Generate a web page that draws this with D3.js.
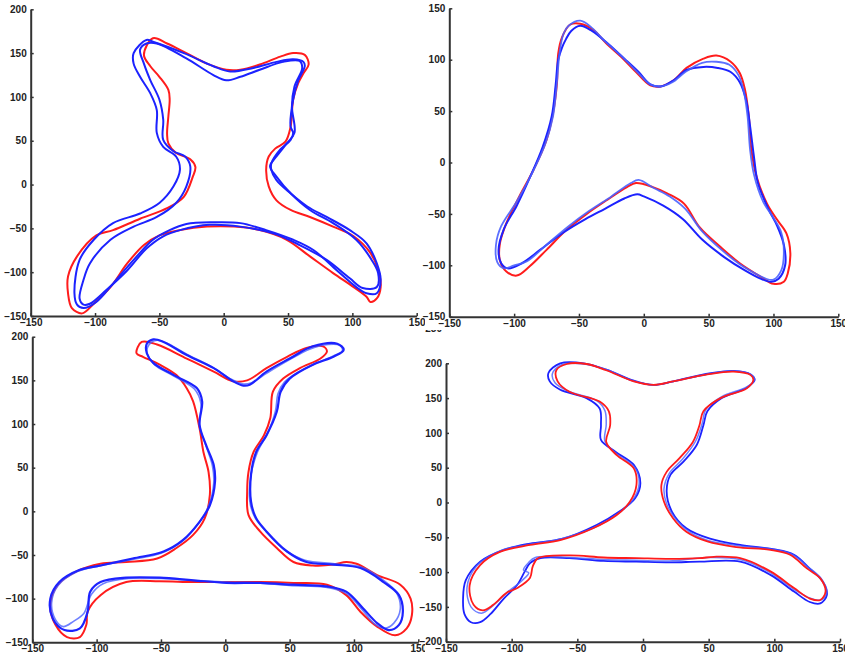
<!DOCTYPE html>
<html>
<head>
<meta charset="utf-8">
<script src="https://cdn.jsdelivr.net/npm/d3@7"></script>
<style>
  body { margin: 0; background: #fff; }
  svg { display: block; }
  .tick text { font-family: "Liberation Sans", Arial, sans-serif; font-weight: bold; font-size: 10px; fill: #222; }
</style>
</head>
<body>
<script>
const w = 845;
const h = 660;

// tick values
const xTicks = [-150, -100, -50, 0, 50, 100, 150];
const yTicksTL = [-150, -100, -50, 0, 50, 100, 150, 200];
const yTicksTR = [-150, -100, -50, 0, 50, 100, 150];
const yTicksBL = [-150, -100, -50, 0, 50, 100, 150, 200];
const yTicksBR = [-200, -150, -100, -50, 0, 50, 100, 150, 200, 250];

// top left contours
const tlRed = [[-55,167],[-44,161],[-29,150],[-13,138],[2,131],[13,131],[28,137],[44,146],[54,150],[63,148],[66,137],[62,127],[58,116],[54,97],[52,66],[48,49],[40,41],[35,32],[33,17],[35,-2],[41,-18],[52,-29],[67,-37],[85,-48],[101,-59],[114,-78],[120,-97],[122,-117],[119,-130],[114,-134],[111,-128],[101,-117],[85,-101],[67,-82],[49,-63],[28,-52],[8,-48],[-13,-48],[-34,-52],[-50,-58],[-62,-69],[-75,-90],[-88,-117],[-101,-136],[-110,-147],[-118,-141],[-121,-124],[-121,-105],[-114,-82],[-99,-58],[-86,-52],[-65,-39],[-44,-27],[-31,-14],[-24,9],[-22,20],[-26,29],[-37,36],[-43,47],[-44,58],[-43,78],[-42,97],[-43,108],[-50,123],[-57,135],[-62,148]];
const tlBlue1 = [[-60,165],[-55,163],[-31,150],[-8,135],[5,129],[23,133],[41,140],[54,143],[62,140],[63,135],[58,119],[54,97],[52,66],[54,59],[52,51],[44,40],[37,24],[37,17],[41,5],[52,-10],[65,-25],[80,-37],[98,-52],[111,-67],[119,-90],[122,-109],[119,-124],[111,-124],[103,-117],[88,-98],[70,-75],[54,-63],[33,-52],[13,-44],[-8,-43],[-29,-45],[-42,-52],[-55,-63],[-70,-86],[-86,-113],[-99,-134],[-109,-141],[-114,-137],[-116,-124],[-112,-86],[-101,-63],[-86,-44],[-65,-33],[-50,-21],[-39,-2],[-34,17],[-37,32],[-47,43],[-52,59],[-52,85],[-57,104],[-65,123],[-70,138],[-70,150]];
const tlBlue2 = [[-52,161],[-29,144],[-8,125],[2,119],[13,123],[28,131],[46,140],[59,141],[61,133],[55,112],[53,89],[55,59],[49,47],[41,32],[36,21],[41,9],[52,-10],[67,-29],[85,-44],[103,-63],[115,-86],[120,-101],[119,-117],[108,-118],[98,-107],[80,-86],[59,-69],[39,-56],[13,-48],[-11,-46],[-34,-52],[-47,-59],[-60,-73],[-75,-98],[-91,-120],[-104,-136],[-109,-137],[-112,-130],[-109,-109],[-104,-90],[-88,-63],[-70,-48],[-52,-37],[-37,-21],[-29,-2],[-26,21],[-30,32],[-39,38],[-47,51],[-47,74],[-50,97],[-57,119],[-62,138],[-65,154],[-60,161]];

// top right contours
const trRed = [[-57,134],[-49,135],[-39,129],[-29,116],[-16,101],[-6,88],[5,75],[13,74],[23,80],[33,92],[46,101],[56,104],[67,98],[74,87],[78,71],[81,45],[83,12],[87,-14],[95,-40],[103,-56],[110,-69],[113,-88],[111,-108],[108,-116],[100,-118],[90,-111],[74,-98],[59,-82],[43,-63],[31,-40],[18,-30],[7,-24],[-6,-20],[-13,-24],[-29,-37],[-44,-50],[-60,-66],[-75,-85],[-88,-101],[-98,-110],[-106,-106],[-111,-95],[-111,-79],[-106,-59],[-96,-33],[-85,-7],[-75,22],[-70,48],[-67,77],[-66,106],[-63,122]];
const trBlue1 = [[-58,133],[-49,138],[-40,131],[-30,118],[-16,102],[-5,88],[5,76],[13,74],[22,78],[32,88],[45,97],[56,98],[66,95],[73,85],[77,70],[80,45],[82,12],[85,-12],[92,-38],[100,-54],[106,-68],[108,-88],[106,-105],[100,-114],[94,-113],[86,-108],[74,-99],[60,-85],[45,-67],[32,-45],[20,-33],[8,-25],[-4,-17],[-10,-20],[-25,-33],[-42,-47],[-58,-62],[-75,-80],[-90,-96],[-100,-100],[-108,-103],[-113,-97],[-114,-80],[-110,-62],[-98,-38],[-86,-10],[-76,18],[-70,45],[-67,78],[-65,106],[-62,125]];
const trBlue2 = [[-56,128],[-49,133],[-40,128],[-28,116],[-15,101],[-4,88],[5,76],[13,74],[23,80],[33,90],[46,93],[57,92],[67,88],[74,78],[79,60],[82,35],[85,5],[88,-20],[96,-45],[103,-62],[108,-80],[109,-100],[104,-113],[98,-116],[90,-113],[78,-105],[62,-92],[45,-75],[30,-55],[15,-42],[0,-33],[-5,-31],[-15,-35],[-30,-45],[-45,-55],[-62,-68],[-80,-85],[-94,-98],[-105,-103],[-110,-98],[-112,-85],[-108,-65],[-98,-42],[-88,-15],[-78,15],[-71,45],[-68,75],[-66,100],[-63,112],[-60,120]];

// bottom left contours
const blRed = [[-65,194],[-53,191],[-30,175],[-9,160],[6,149],[17,150],[32,164],[48,177],[63,187],[76,189],[79,183],[74,175],[58,164],[45,152],[37,137],[35,107],[30,87],[22,68],[18,45],[17,23],[18,-4],[27,-23],[40,-42],[53,-58],[68,-62],[84,-61],[94,-58],[102,-60],[118,-73],[136,-84],[144,-100],[145,-119],[141,-134],[132,-142],[118,-132],[105,-115],[94,-96],[79,-84],[53,-82],[27,-81],[1,-81],[-25,-81],[-51,-80],[-77,-81],[-97,-96],[-107,-115],[-108,-130],[-113,-144],[-123,-144],[-132,-130],[-136,-107],[-130,-84],[-116,-69],[-97,-60],[-77,-58],[-53,-54],[-38,-42],[-25,-27],[-16,-8],[-12,19],[-13,45],[-17,68],[-20,95],[-25,126],[-30,141],[-38,156],[-51,168],[-64,177],[-69,181]];
const blBlue1 = [[-56,197],[-48,194],[-30,179],[-9,164],[6,149],[14,144],[19,145],[32,160],[50,175],[68,189],[87,192],[92,185],[84,177],[68,168],[50,152],[43,137],[40,114],[32,87],[24,68],[20,42],[20,11],[24,-8],[32,-23],[48,-46],[63,-58],[84,-61],[105,-65],[123,-81],[135,-96],[138,-115],[135,-130],[127,-136],[118,-128],[107,-111],[94,-92],[79,-86],[53,-84],[27,-82],[1,-82],[-25,-79],[-51,-76],[-77,-76],[-97,-81],[-105,-92],[-107,-115],[-113,-134],[-125,-136],[-134,-123],[-136,-100],[-129,-81],[-113,-67],[-97,-62],[-72,-54],[-48,-46],[-33,-33],[-20,-12],[-12,7],[-8,34],[-9,53],[-15,76],[-20,99],[-18,126],[-22,141],[-40,156],[-56,170],[-61,181],[-61,192]];
const blBlue2 = [[-58,193],[-53,196],[-46,193],[-30,180],[-10,165],[5,151],[13,146],[20,147],[32,158],[48,172],[66,186],[80,191],[89,190],[91,184],[84,178],[70,169],[55,158],[46,148],[41,135],[39,115],[33,90],[25,68],[20,42],[19,12],[23,-7],[31,-22],[46,-44],[62,-56],[85,-60],[106,-64],[122,-78],[133,-93],[136,-112],[131,-128],[124,-134],[116,-129],[106,-112],[94,-94],[78,-87],[50,-85],[25,-82],[0,-81],[-25,-79],[-50,-77],[-75,-77],[-95,-83],[-104,-95],[-110,-117],[-118,-126],[-126,-132],[-132,-124],[-135,-105],[-130,-85],[-115,-69],[-96,-62],[-72,-55],[-50,-48],[-34,-35],[-21,-14],[-13,6],[-9,32],[-10,52],[-15,75],[-20,98],[-19,124],[-24,140],[-40,155],[-55,168],[-61,183]];

// bottom right contours
const brRed = [[-58,199],[-43,199],[-28,190],[-7,174],[8,169],[23,174],[49,184],[69,188],[82,183],[84,176],[79,164],[59,150],[46,131],[43,111],[38,87],[28,64],[18,44],[14,25],[16,1],[23,-23],[33,-42],[49,-56],[71,-64],[97,-68],[112,-75],[125,-95],[135,-109],[139,-128],[135,-140],[127,-138],[115,-123],[97,-99],[74,-80],[54,-78],[43,-80],[21,-81],[-5,-80],[-30,-79],[-56,-76],[-80,-80],[-84,-92],[-86,-108],[-95,-122],[-104,-130],[-114,-147],[-122,-155],[-129,-147],[-132,-119],[-124,-90],[-109,-71],[-86,-61],[-63,-54],[-38,-37],[-20,-18],[-10,1],[-5,25],[-7,49],[-20,68],[-28,87],[-25,111],[-26,131],[-33,145],[-56,159],[-65,174],[-66,190]];
const brBlue1 = [[-63,200],[-45,200],[-28,191],[-7,175],[8,169],[23,174],[49,185],[69,189],[82,184],[85,176],[79,165],[60,150],[49,131],[46,111],[41,83],[31,59],[21,40],[18,16],[22,-13],[33,-37],[51,-52],[74,-61],[99,-67],[115,-75],[127,-95],[137,-114],[140,-133],[135,-145],[127,-143],[115,-128],[97,-104],[74,-85],[43,-85],[21,-86],[-5,-85],[-30,-84],[-56,-80],[-78,-80],[-86,-87],[-90,-99],[-96,-119],[-106,-138],[-116,-160],[-124,-172],[-131,-172],[-136,-160],[-137,-138],[-135,-112],[-124,-85],[-106,-68],[-86,-59],[-61,-52],[-35,-32],[-18,-13],[-6,6],[-2,28],[-7,54],[-21,73],[-32,90],[-32,111],[-33,135],[-43,150],[-63,162],[-71,174],[-72,186]];
const brBlue2 = [[-62,198],[-45,199],[-28,191],[-8,175],[8,169],[23,174],[48,184],[68,189],[82,184],[85,176],[79,166],[60,152],[48,134],[45,113],[40,88],[30,62],[20,42],[16,20],[18,-2],[25,-24],[35,-42],[50,-55],[72,-62],[98,-67],[113,-74],[126,-93],[136,-110],[140,-128],[136,-140],[128,-138],[115,-125],[97,-101],[74,-82],[50,-79],[20,-84],[-5,-83],[-30,-82],[-55,-79],[-82,-79],[-87,-86],[-91,-97],[-87,-101],[-92,-112],[-104,-130],[-114,-148],[-123,-159],[-131,-150],[-134,-122],[-127,-92],[-108,-69],[-86,-60],[-62,-52],[-37,-36],[-19,-16],[-8,3],[-3,26],[-6,50],[-20,70],[-29,88],[-28,112],[-29,132],[-35,146],[-57,160],[-67,172],[-69,185]];

const svg = d3.select("body")
  .append("svg")
  .attr("width", w)
  .attr("height", h);

function panel(box, yDomain, yTicks, contours) {
  const g = svg.append("g");
  g.append("rect")
    .attr("x", box.bg[0]).attr("y", box.bg[1])
    .attr("width", box.bg[2]).attr("height", box.bg[3])
    .attr("fill", "#fff");

  const xScale = d3.scaleLinear().domain([-150, 150]).range([box.x0, box.x1]);
  const yScale = d3.scaleLinear().domain(yDomain).range([box.yb, box.yt]);

  const line = d3.line()
    .x(d => xScale(d[0]))
    .y(d => yScale(d[1]))
    .curve(d3.curveCatmullRomClosed.alpha(0.5));

  contours.forEach(c => {
    g.append("path")
      .attr("d", line(c.pts))
      .attr("fill", "none")
      .attr("stroke", c.color)
      .attr("stroke-width", c.width)
      .attr("stroke-opacity", c.op)
      .attr("stroke-linejoin", "round");
  });

  const xAxis = d3.axisBottom(xScale).tickValues(xTicks).tickSizeInner(-3).tickSizeOuter(0).tickPadding(5);
  const yAxis = d3.axisLeft(yScale).tickValues(yTicks).tickSizeInner(-3).tickSizeOuter(0).tickPadding(4);

  const gx = g.append("g")
    .attr("transform", "translate(0," + yScale(yDomain[0]) + ")")
    .call(xAxis);
  const gy = g.append("g")
    .attr("transform", "translate(" + xScale(-150) + ",0)")
    .call(yAxis);

  [gx, gy].forEach(a => {
    a.select(".domain").attr("stroke", "#333").attr("stroke-width", 2);
    a.selectAll(".tick line").attr("stroke", "#333").attr("stroke-width", 1.5);
  });
  gx.selectAll(".tick text").attr("dy", "0.5em");
}

const red = "#ff1c1c";
const blue = "#1c22ff";
const blue2 = "#4a60ff";

// bottom row first so the top row backgrounds clip the cut label
panel({x0: 32.3, x1: 418.3, yb: 642.3, yt: 336.7, bg: [0, 330, 425, 330]}, [-150, 200], yTicksBL, [
  {pts: blRed, color: red, width: 2, op: 1},
  {pts: blBlue2, color: blue2, width: 1.6, op: 0.8},
  {pts: blBlue1, color: blue, width: 2.2, op: 1}
]);
panel({x0: 446, x1: 840, yb: 641.7, yt: 363.3, bg: [425, 330, 420, 330]}, [-200, 200], yTicksBR, [
  {pts: brBlue1, color: blue, width: 1.8, op: 1},
  {pts: brBlue2, color: blue2, width: 1.5, op: 0.8},
  {pts: brRed, color: red, width: 1.8, op: 1}
]);
panel({x0: 30.7, x1: 416.7, yb: 316, yt: 9.3, bg: [0, 0, 425, 330]}, [-150, 200], yTicksTL, [
  {pts: tlRed, color: red, width: 2, op: 1},
  {pts: tlBlue2, color: blue, width: 2, op: 1},
  {pts: tlBlue1, color: blue, width: 2, op: 1}
]);
panel({x0: 449.3, x1: 838.3, yb: 316.7, yt: 8.3, bg: [425, 0, 420, 330]}, [-150, 150], yTicksTR, [
  {pts: trRed, color: red, width: 2, op: 1},
  {pts: trBlue2, color: blue, width: 2, op: 1},
  {pts: trBlue1, color: blue2, width: 1.8, op: 0.9}
]);
</script>
</body>
</html>
